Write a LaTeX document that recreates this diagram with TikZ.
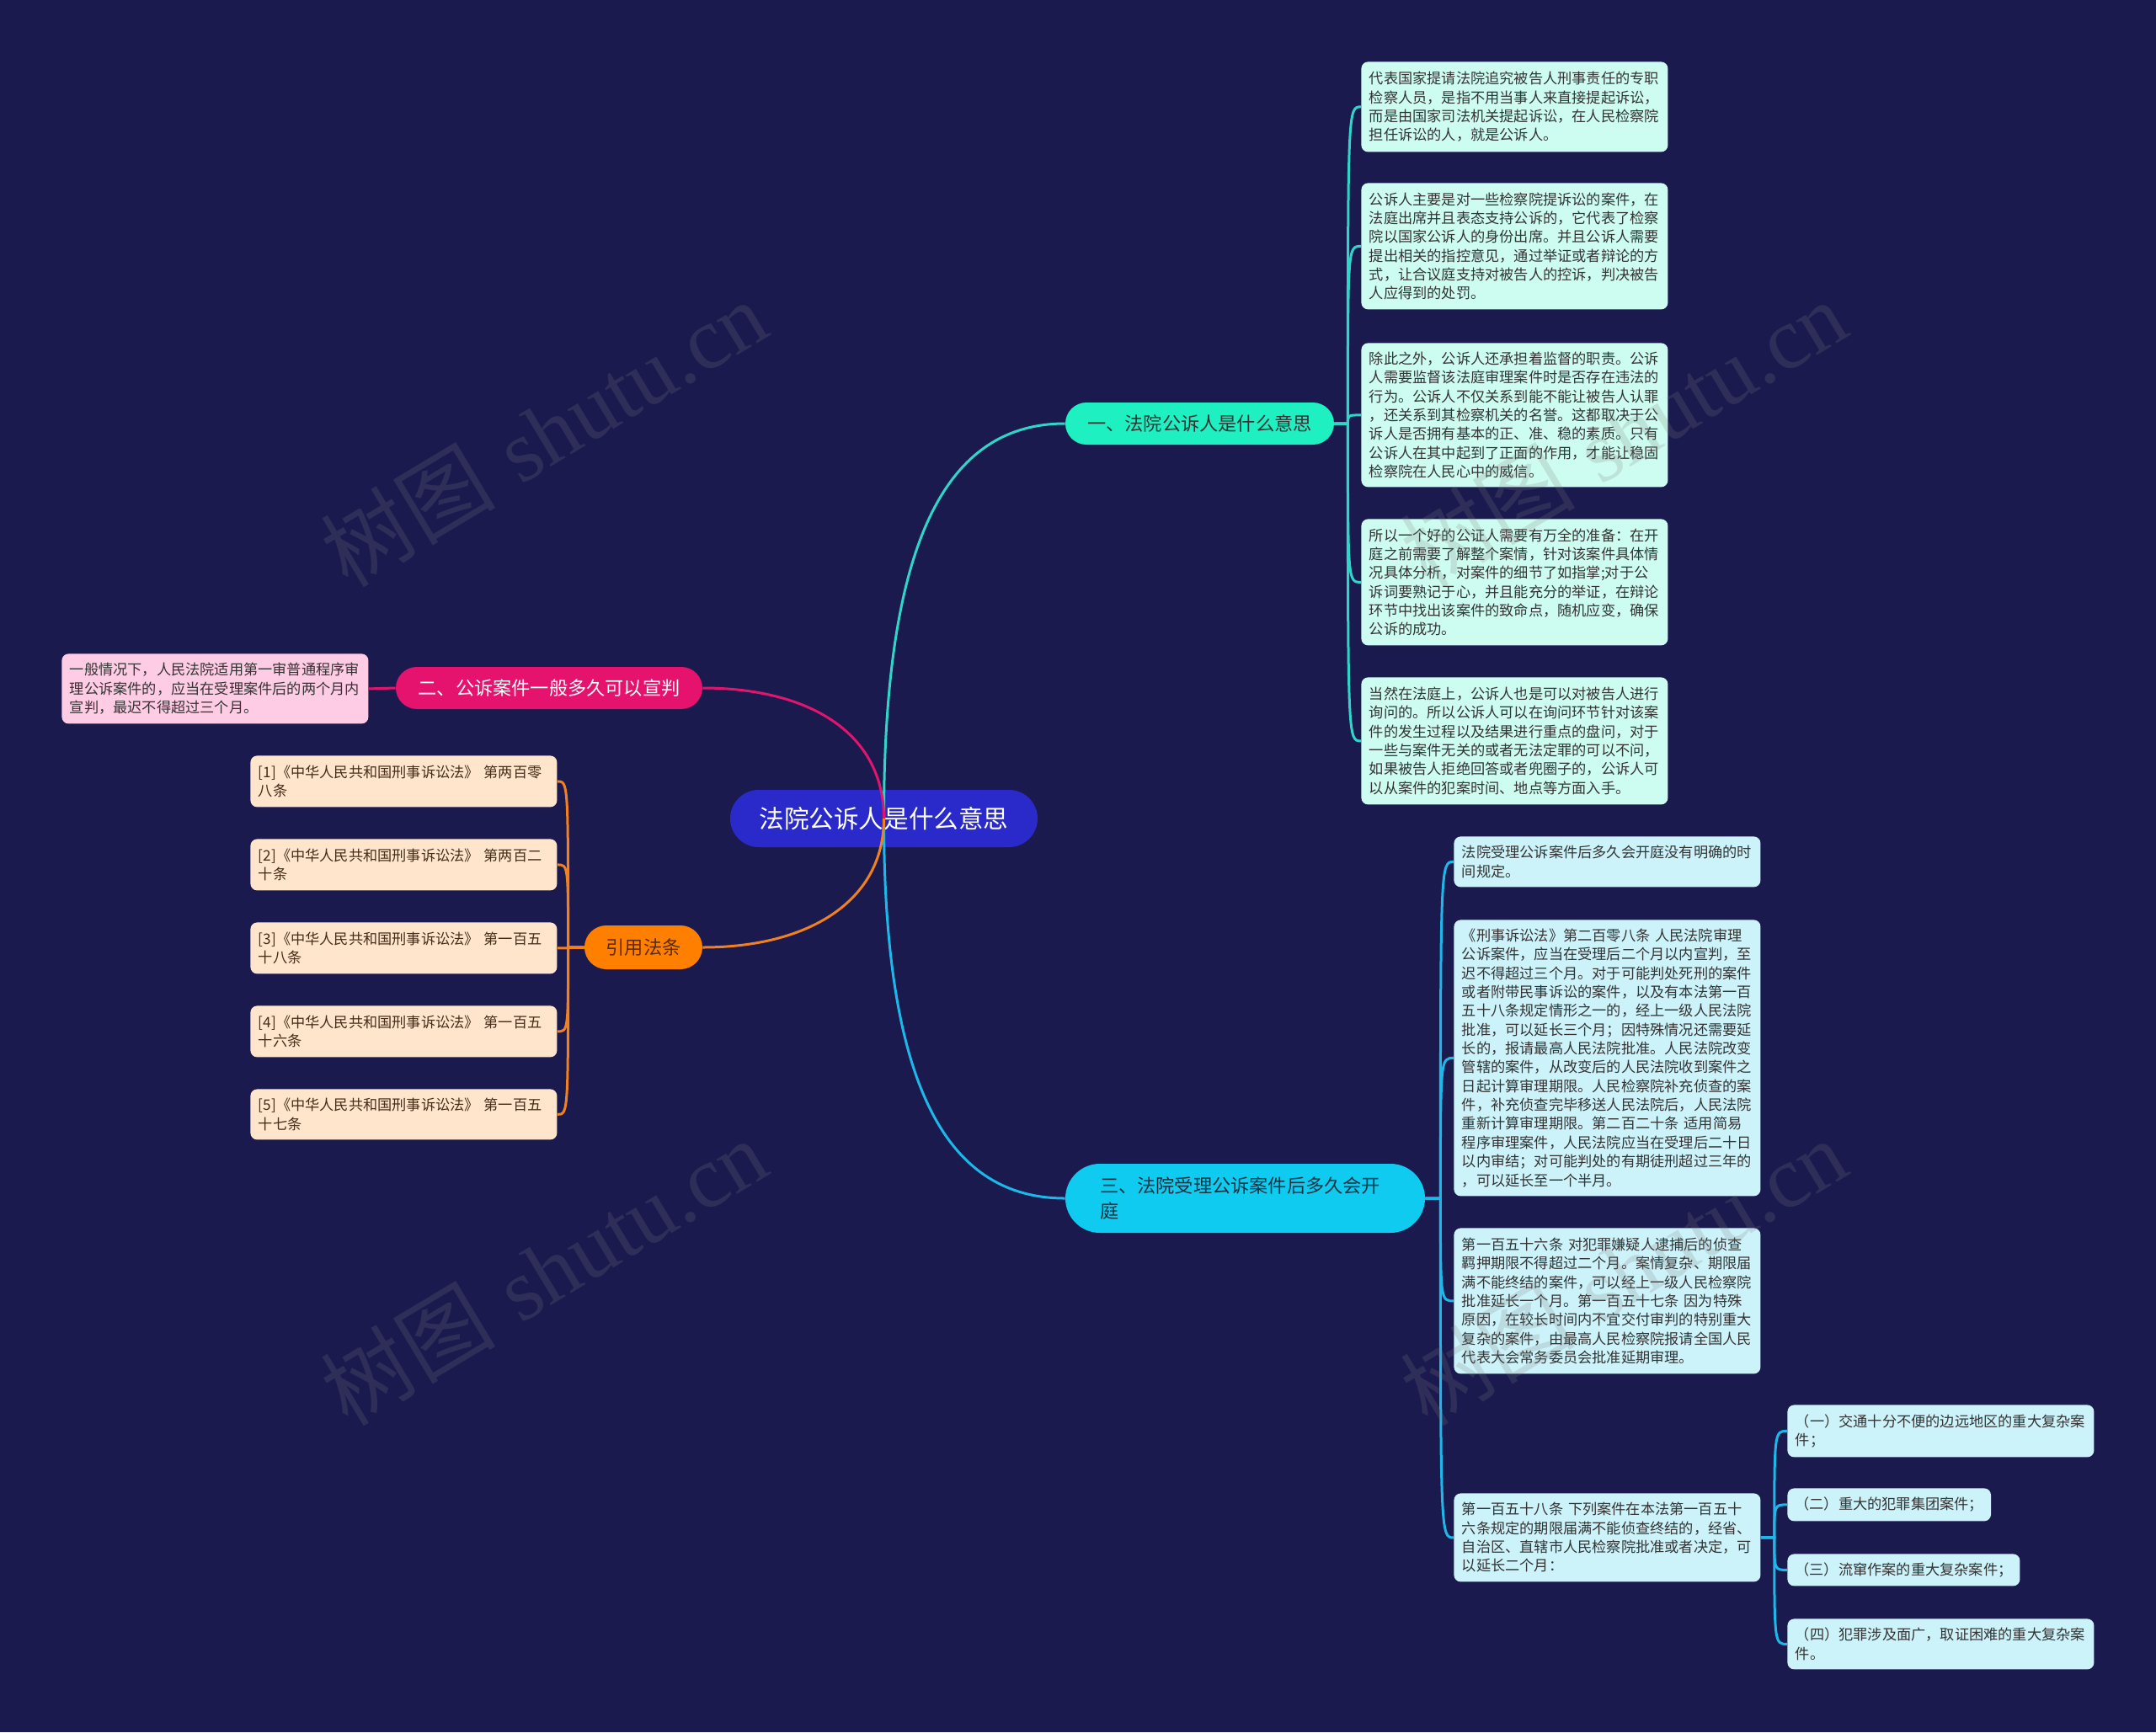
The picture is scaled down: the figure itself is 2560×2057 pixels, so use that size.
\documentclass[tikz,border=0pt]{standalone}
\usepackage{fontspec}
\setmainfont{Noto Sans CJK SC}
\newfontfamily\wmlatin{Liberation Serif}
\definecolor{bgc}{HTML}{1B1A4F}
\definecolor{rootc}{HTML}{2A2ACB}
\definecolor{bonec}{HTML}{1FF0C2}
\definecolor{btwoc}{HTML}{E5126E}
\definecolor{bcitc}{HTML}{FF8000}
\definecolor{bthreec}{HTML}{0FCBF0}
\definecolor{lonec}{HTML}{CDFCF0}
\definecolor{lthreec}{HTML}{CCF2FA}
\definecolor{ltwoc}{HTML}{FFCCE5}
\definecolor{lcitc}{HTML}{FFE5CC}
\definecolor{linone}{HTML}{30D5C8}
\definecolor{lintwo}{HTML}{E0156E}
\definecolor{lincit}{HTML}{F08020}
\definecolor{linthree}{HTML}{1DB8E8}
\definecolor{leaftxt}{HTML}{333333}
\newcommand\leaffont{\fontsize{8.6pt}{11.17pt}\selectfont}
\newcommand\brfont{\fontsize{11.1pt}{15pt}\selectfont}
\newcommand\rootfont{\fontsize{14.8pt}{18pt}\selectfont}
\tikzset{
  leafbox/.style={anchor=north west, rounded corners=4pt, inner xsep=4.75pt, inner ysep=0pt,
    text width=172.5pt, align=left, font=\leaffont, text=leaftxt},
  shortleaf/.style={anchor=north west, rounded corners=4pt, inner xsep=4.5pt, inner ysep=0pt,
    align=left, font=\leaffont, text=leaftxt},
  branchbox/.style={inner sep=0pt, font=\brfont, minimum height=25pt, rounded corners=12.5pt},
  rootbox/.style={inner sep=0pt, font=\rootfont, text=white, fill=rootc,
    minimum width=182.5pt, minimum height=34pt, rounded corners=17pt},
  conn/.style={line width=1.5pt},
  wmark/.style={text=gray, opacity=0.2, rotate=31, font=\fontsize{52pt}{60pt}\selectfont}
}
\begin{document}
\begin{tikzpicture}[x=0.5pt,y=-0.5pt]
\fill[bgc] (0,0) rectangle (2560,2057);
\useasboundingbox (0,0) rectangle (2560,2057);

% root
\node[rootbox] (root) at (1049.5,972) {法院公诉人是什么意思};

% branches
\node[branchbox, fill=bonec, text=leaftxt, minimum width=159.5pt] (b1) at (1424.5,503) {一、法院公诉人是什么意思};
\node[branchbox, fill=btwoc, text=white, minimum width=182pt] (b2) at (652,817) {二、公诉案件一般多久可以宣判};
\node[branchbox, fill=bcitc, text={rgb,255:red,92;green,42;blue,5}, minimum width=70pt, minimum height=26pt, rounded corners=13pt] (bc) at (764,1125) {引用法条};
\node[branchbox, fill=bthreec, text={rgb,255:red,20;green,50;blue,65}, minimum height=41pt, rounded corners=20.5pt,
  text width=172.5pt, inner xsep=20.5pt, align=left] (b3) at (1478.5,1423) {三、法院受理公诉案件后多久会开\\庭};

% branch 1 leaves
\node[leafbox, fill=lonec, minimum height=53.5pt] (l1a) at (1616,73) {代表国家提请法院追究被告人刑事责任的专职\\检察人员，是指不用当事人来直接提起诉讼，\\而是由国家司法机关提起诉讼，在人民检察院\\担任诉讼的人，就是公诉人。};
\node[leafbox, fill=lonec, minimum height=75pt] (l1b) at (1616,217) {公诉人主要是对一些检察院提诉讼的案件，在\\法庭出席并且表态支持公诉的，它代表了检察\\院以国家公诉人的身份出席。并且公诉人需要\\提出相关的指控意见，通过举证或者辩论的方\\式，让合议庭支持对被告人的控诉，判决被告\\人应得到的处罚。};
\node[leafbox, fill=lonec, minimum height=85.5pt] (l1c) at (1616,407) {除此之外，公诉人还承担着监督的职责。公诉\\人需要监督该法庭审理案件时是否存在违法的\\行为。公诉人不仅关系到能不能让被告人认罪\\，还关系到其检察机关的名誉。这都取决于公\\诉人是否拥有基本的正、准、稳的素质。只有\\公诉人在其中起到了正面的作用，才能让稳固\\检察院在人民心中的威信。};
\node[leafbox, fill=lonec, minimum height=75pt] (l1d) at (1616,616) {所以一个好的公证人需要有万全的准备：在开\\庭之前需要了解整个案情，针对该案件具体情\\况具体分析，对案件的细节了如指掌;对于公\\诉词要熟记于心，并且能充分的举证，在辩论\\环节中找出该案件的致命点，随机应变，确保\\公诉的成功。};
\node[leafbox, fill=lonec, minimum height=75.5pt] (l1e) at (1616,804) {当然在法庭上，公诉人也是可以对被告人进行\\询问的。所以公诉人可以在询问环节针对该案\\件的发生过程以及结果进行重点的盘问，对于\\一些与案件无关的或者无法定罪的可以不问，\\如果被告人拒绝回答或者兜圈子的，公诉人可\\以从案件的犯案时间、地点等方面入手。};

% branch 3 leaves
\node[leafbox, fill=lthreec, minimum height=30pt] (l3a) at (1726,993) {法院受理公诉案件后多久会开庭没有明确的时\\间规定。};
\node[leafbox, fill=lthreec, minimum height=164pt] (l3b) at (1726,1092) {《刑事诉讼法》第二百零八条~人民法院审理\\公诉案件，应当在受理后二个月以内宣判，至\\迟不得超过三个月。对于可能判处死刑的案件\\或者附带民事诉讼的案件，以及有本法第一百\\五十八条规定情形之一的，经上一级人民法院\\批准，可以延长三个月；因特殊情况还需要延\\长的，报请最高人民法院批准。人民法院改变\\管辖的案件，从改变后的人民法院收到案件之\\日起计算审理期限。人民检察院补充侦查的案\\件，补充侦查完毕移送人民法院后，人民法院\\重新计算审理期限。第二百二十条~适用简易\\程序审理案件，人民法院应当在受理后二十日\\以内审结；对可能判处的有期徒刑超过三年的\\，可以延长至一个半月。};
\node[leafbox, fill=lthreec, minimum height=86.5pt] (l3c) at (1726,1458) {第一百五十六条~对犯罪嫌疑人逮捕后的侦查\\羁押期限不得超过二个月。案情复杂、期限届\\满不能终结的案件，可以经上一级人民检察院\\批准延长一个月。第一百五十七条~因为特殊\\原因，在较长时间内不宜交付审判的特别重大\\复杂的案件，由最高人民检察院报请全国人民\\代表大会常务委员会批准延期审理。};
\node[leafbox, fill=lthreec, minimum height=52.5pt] (l3d) at (1726,1773) {第一百五十八条~下列案件在本法第一百五十\\六条规定的期限届满不能侦查终结的，经省、\\自治区、直辖市人民检察院批准或者决定，可\\以延长二个月：};

% sub leaves
\node[leafbox, fill=lthreec, minimum height=31pt] (s1) at (2122,1668) {（一）交通十分不便的边远地区的重大复杂案\\件；};
\node[shortleaf, fill=lthreec, minimum height=19.5pt] (s2) at (2122,1767) {（二）重大的犯罪集团案件；};
\node[shortleaf, fill=lthreec, minimum height=19pt] (s3) at (2122,1845) {（三）流窜作案的重大复杂案件；};
\node[leafbox, fill=lthreec, minimum height=30pt] (s4) at (2122,1922) {（四）犯罪涉及面广，取证困难的重大复杂案\\件。};

% branch 2 leaf
\node[leafbox, fill=ltwoc, minimum height=41.5pt] (lb2) at (73,776) {一般情况下，人民法院适用第一审普通程序审\\理公诉案件的，应当在受理案件后的两个月内\\宣判，最迟不得超过三个月。};

% citation leaves
\node[leafbox, fill=lcitc, text={rgb,255:red,70;green,45;blue,25}, minimum height=30.5pt] (c1) at (297,897) {[1]《中华人民共和国刑事诉讼法》~第两百零\\八条};
\node[leafbox, fill=lcitc, text={rgb,255:red,70;green,45;blue,25}, minimum height=30.5pt] (c2) at (297,996) {[2]《中华人民共和国刑事诉讼法》~第两百二\\十条};
\node[leafbox, fill=lcitc, text={rgb,255:red,70;green,45;blue,25}, minimum height=30.5pt] (c3) at (297,1095) {[3]《中华人民共和国刑事诉讼法》~第一百五\\十八条};
\node[leafbox, fill=lcitc, text={rgb,255:red,70;green,45;blue,25}, minimum height=30.5pt] (c4) at (297,1194) {[4]《中华人民共和国刑事诉讼法》~第一百五\\十六条};
\node[leafbox, fill=lcitc, text={rgb,255:red,70;green,45;blue,25}, minimum height=30pt] (c5) at (297,1293) {[5]《中华人民共和国刑事诉讼法》~第一百五\\十七条};

% main curves
\draw[conn, linone] (root.center) .. controls ([yshift=161pt]root.center) and ([xshift=-72.5pt]b1.west) .. (b1.west);
\draw[conn, linthree] (root.center) .. controls ([yshift=-154.5pt]root.center) and ([xshift=-72.5pt]b3.west) .. (b3.west);
\draw[conn, lintwo] (root.center) .. controls ([yshift=51pt]root.center) and ([xshift=63pt]b2.east) .. (b2.east);
\draw[conn, lincit] (root.center) .. controls ([yshift=-49pt]root.center) and ([xshift=63pt]bc.east) .. (bc.east);

% branch 1 connectors
\coordinate (j1) at ([xshift=8pt]b1.east);
\foreach \n in {l1a,l1b,l1c,l1d,l1e}
  \draw[conn, linone] (b1.east) -- (j1) .. controls (j1 |- \n.west) .. (\n.west);

% branch 3 connectors
\coordinate (j3) at ([xshift=9pt]b3.east);
\foreach \n in {l3a,l3b,l3c,l3d}
  \draw[conn, linthree] (b3.east) -- (j3) .. controls (j3 |- \n.west) .. (\n.west);

% sub leaves connectors
\coordinate (jd) at ([xshift=8pt]l3d.east);
\foreach \n in {s1,s2,s3,s4}
  \draw[conn, linthree] (l3d.east) -- (jd) .. controls (jd |- \n.west) .. (\n.west);

% branch 2 connector
\draw[conn, lintwo] (b2.west) -- (lb2.east);

% citation connectors
\coordinate (jc) at ([xshift=-9.5pt]bc.west);
\foreach \n in {c1,c2,c3,c4,c5}
  \draw[conn, lincit] (bc.west) -- (jc) .. controls (jc |- \n.east) .. (\n.east);

% watermarks
\node[wmark] (w1) at (645,514) {树图\hspace{0.3em}{\wmlatin shutu.cn}};
\node[wmark] (w2) at (645,1510) {树图\hspace{0.3em}{\wmlatin shutu.cn}};
\node[wmark] (w3) at (1927,514) {树图\hspace{0.3em}{\wmlatin shutu.cn}};
\node[wmark] (w4) at (1927,1510) {树图\hspace{0.3em}{\wmlatin shutu.cn}};
\end{tikzpicture}
\end{document}
